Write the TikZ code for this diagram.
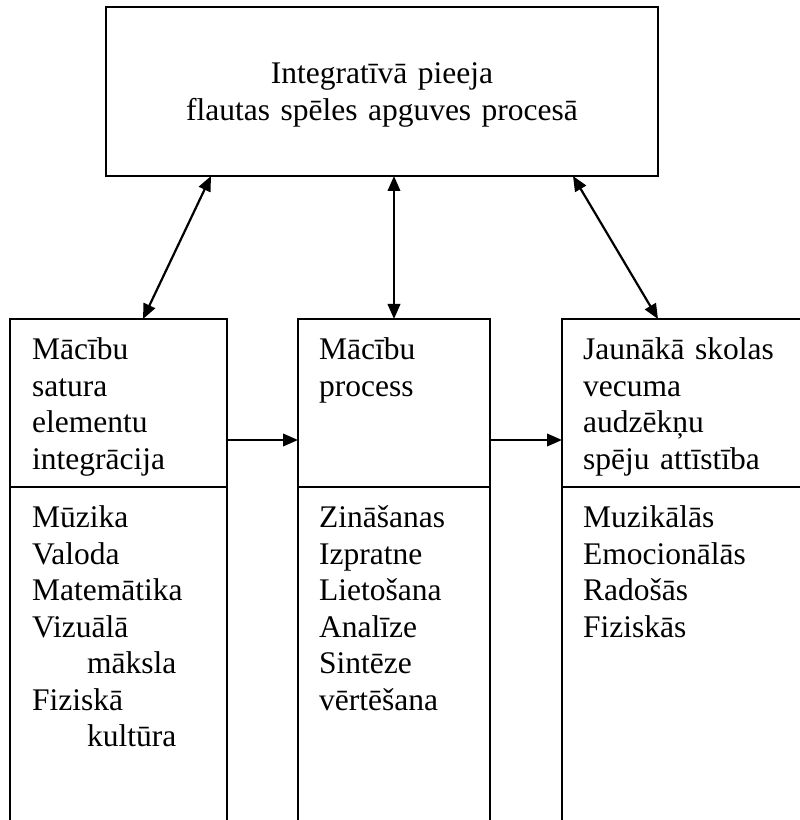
\documentclass[tikz,border=0pt]{standalone}
\usepackage{fontspec}
\setmainfont{Liberation Serif}
\usetikzlibrary{arrows.meta,positioning}

\begin{document}
\begin{tikzpicture}[x=1pt,y=1pt,
        box/.style={draw, line width=1.3pt, inner sep=0pt, outer sep=0pt},
        txt/.style={anchor=base west, inner sep=0pt, align=left, text width=215pt,
            font=\fontsize{31.5}{36.5}\selectfont},
        link/.style={line width=2.2pt, {Triangle[length=15pt,width=12.5pt]}-{Triangle[length=15pt,width=12.5pt]}},
        flow/.style={line width=2.2pt, -{Triangle[length=15pt,width=12.5pt]}}]
        \useasboundingbox (0,0) rectangle (800,820);
        \clip (0,0) rectangle (800,820);
        % top box
        \node[box, minimum width=552pt, minimum height=169pt] (integr) at (382,728.5) {};
        \node[txt, anchor=base, align=center, text width=540pt] (integrTxt) at ([yshift=7.5pt]integr.center)
            {Integratīvā pieeja\\flautas spēles apguves procesā};
        % three columns, upper and lower part
        \node[box, minimum width=217pt, minimum height=168pt, anchor=north west] (satura) at (10,501) {};
        \node[box, minimum width=217pt, minimum height=360pt, anchor=north] (saturaList) at (satura.south) {};
        \node[box, minimum width=192pt, minimum height=168pt, anchor=north west] (process) at (298,501) {};
        \node[box, minimum width=192pt, minimum height=360pt, anchor=north] (processList) at (process.south) {};
        \node[box, minimum width=250pt, minimum height=168pt, anchor=north west] (spejas) at (562,501) {};
        \node[box, minimum width=250pt, minimum height=360pt, anchor=north] (spejasList) at (spejas.south) {};
        % texts
        \node[txt] (saturaTxt) at ([shift={(22,-41)}]satura.north west)
            {Mācību\\satura\\elementu\\integrācija};
        \node[txt] (saturaItems) at ([shift={(22,-41)}]saturaList.north west)
            {Mūzika\\Valoda\\Matemātika\\Vizuālā\\\hspace*{55pt}māksla\\Fiziskā\\\hspace*{55pt}kultūra};
        \node[txt] (processTxt) at ([shift={(21,-41)}]process.north west)
            {Mācību\\process};
        \node[txt] (processItems) at ([shift={(21,-41)}]processList.north west)
            {Zināšanas\\Izpratne\\Lietošana\\Analīze\\Sintēze\\vērtēšana};
        \node[txt] (spejasTxt) at ([shift={(21,-41)}]spejas.north west)
            {Jaunākā skolas\\vecuma\\audzēkņu\\spēju attīstība};
        \node[txt] (spejasItems) at ([shift={(21,-41)}]spejasList.north west)
            {Muzikālās\\Emocionālās\\Radošās\\Fiziskās};
        % connectors
        \draw[link] ([xshift=105pt]integr.south west) -- ([xshift=133pt]satura.north west);
        \draw[link] (process.north |- integr.south) -- (process.north);
        \draw[link] ([xshift=-85pt]integr.south east) -- ([xshift=96pt]spejas.north west);
        \draw[flow] ([yshift=47pt]satura.south east) -- ([yshift=47pt]process.south west);
        \draw[flow] ([yshift=47pt]process.south east) -- ([yshift=47pt]spejas.south west);
\end{tikzpicture}
\end{document}
